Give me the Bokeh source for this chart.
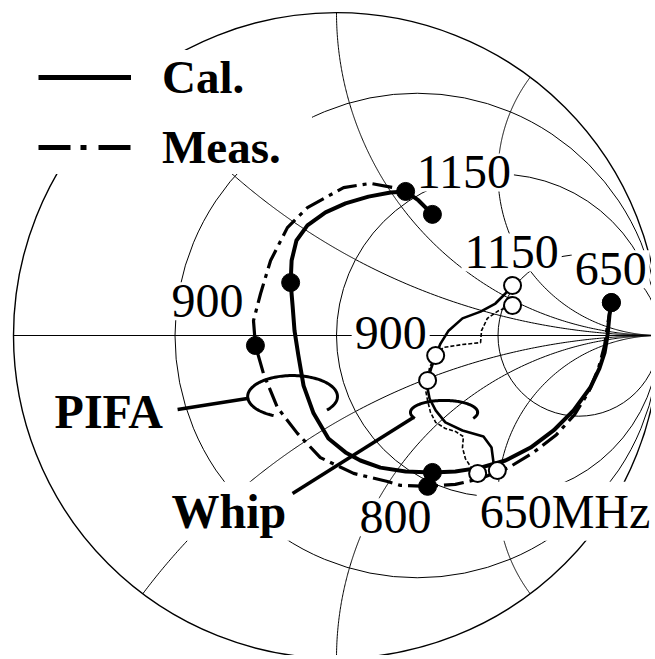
import numpy as np
from bokeh.plotting import figure
from bokeh.models import Label, Legend, LegendItem, Range1d
from bokeh.embed import file_html
from bokeh.resources import INLINE

# ---------------- Smith chart grid values ----------------
resistance_circles = [1/3, 1.0, 3.0]
reactance_arcs = [0.5, 1.0, 2.0, -0.5, -1.0, -2.0]

# ---------------- data: reflection coefficient (Re, Im) ----------------
pifa_cal_re = [0.851, 0.845, 0.839, 0.830, 0.814, 0.786, 0.734, 0.672, 0.601, 0.523, 0.446, 0.368,
               0.297, 0.214, 0.136, 0.074, 0.028, -0.025, -0.071, -0.102, -0.118, -0.130, -0.136,
               -0.142, -0.139, -0.124, -0.090, -0.034, 0.028, 0.099, 0.167, 0.214, 0.254, 0.297]
pifa_cal_im = [0.102, 0.062, 0.000, -0.053, -0.102, -0.161, -0.232, -0.294, -0.347, -0.387, -0.409, -0.421,
               -0.424, -0.421, -0.409, -0.387, -0.362, -0.319, -0.241, -0.155, -0.062, 0.015, 0.093,
               0.164, 0.232, 0.294, 0.341, 0.381, 0.409, 0.430, 0.443, 0.446, 0.418, 0.375]

pifa_meas_re = [0.851, 0.839, 0.830, 0.811, 0.780, 0.737, 0.681, 0.610, 0.533, 0.446, 0.368, 0.282,
                0.198, 0.158, 0.053, -0.050, -0.121, -0.183, -0.226, -0.251, -0.257, -0.235, -0.204,
                -0.152, -0.090, 0.022, 0.105, 0.176, 0.214]
pifa_meas_im = [0.102, 0.031, -0.031, -0.102, -0.176, -0.245, -0.307, -0.362, -0.409, -0.443, -0.461, -0.467,
                -0.464, -0.452, -0.427, -0.378, -0.303, -0.223, -0.118, -0.031, 0.046, 0.130, 0.232,
                0.334, 0.396, 0.458, 0.471, 0.458, 0.446]

whip_cal_re = [0.498, 0.486, 0.480, 0.455, 0.390, 0.337, 0.307, 0.288, 0.282, 0.282, 0.294, 0.307,
               0.322, 0.347, 0.390, 0.446, 0.492, 0.523, 0.545]
whip_cal_im = [-0.418, -0.393, -0.347, -0.313, -0.294, -0.269, -0.232, -0.195, -0.164, -0.139, -0.099, -0.062,
               -0.025, 0.015, 0.053, 0.074, 0.099, 0.130, 0.155]

whip_meas_re = [0.437, 0.415, 0.399, 0.390, 0.393, 0.368, 0.337, 0.307, 0.291, 0.282, 0.276, 0.282,
                0.288, 0.307, 0.331, 0.390, 0.446, 0.449, 0.467, 0.502, 0.545]
whip_meas_im = [-0.427, -0.406, -0.381, -0.347, -0.313, -0.297, -0.288, -0.269, -0.238, -0.201, -0.170, -0.139,
                -0.099, -0.062, -0.037, -0.028, -0.022, 0.015, 0.053, 0.077, 0.093]

# frequency markers (MHz): 650, 800, 900, 1150
pifa_cal_mk_re = [0.851, 0.297, -0.142, 0.297]
pifa_cal_mk_im = [0.102, -0.424, 0.164, 0.375]
pifa_meas_mk_re = [0.851, 0.282, -0.251, 0.214]
pifa_meas_mk_im = [0.102, -0.467, -0.031, 0.446]
# whip markers: 650, 900, 1150
whip_cal_mk_re = [0.498, 0.307, 0.545]
whip_cal_mk_im = [-0.418, -0.062, 0.155]
whip_meas_mk_re = [0.437, 0.282, 0.545]
whip_meas_mk_im = [-0.427, -0.139, 0.093]

# text labels: (text, re, im, bold)
labels = [
    ("900", -0.520, 0.106, False),
    ("1150", 0.239, 0.505, False),
    ("1150", 0.387, 0.257, False),
    ("650", 0.728, 0.205, False),
    ("900", 0.047, 0.007, False),
    ("800", 0.062, -0.563, False),
    ("650MHz", 0.434, -0.544, False),
    ("PIFA", -0.882, -0.235, True),
    ("Whip", -0.520, -0.544, True),
]

# annotation rings (centre re, centre im, semi-axis re, semi-axis im, start deg, end deg)
pifa_ring = (-0.136, -0.189, 0.139, 0.065, -40, 245)
whip_ring = (0.333, -0.238, 0.104, 0.037, -30, 210)
# leader lines (from label to ring)
pifa_leader = ([-0.492, -0.276], [-0.229, -0.195])
whip_leader = ([-0.136, 0.238], [-0.489, -0.254])

# ---------------- figure ----------------
CX, CY, S = 336.0, 335.0, 323.0   # chart centre / radius in page pixels
W, H = 651, 655
p = figure(width=W, height=H, output_backend="svg", toolbar_location=None,
           x_range=Range1d((0 - CX) / S, (W - CX) / S),
           y_range=Range1d((CY - H) / S, (CY - 0) / S),
           x_axis_type=None, y_axis_type=None, min_border=0)
p.grid.visible = False
p.outline_line_color = None
p.background_fill_color = "white"

# grid
rc = np.array(resistance_circles)
g = p.circle(x=rc / (1 + rc), y=np.zeros_like(rc), radius=1 / (1 + rc),
             fill_color=None, line_color="black", line_width=1.0)
g.level = "image"
g = p.circle(x=[0], y=[0], radius=1.0, fill_color=None, line_color="black", line_width=1.4)
g.level = "image"
g = p.segment(x0=[-1], y0=[0], x1=[1], y1=[0], line_color="black", line_width=1.0)
g.level = "image"
rr = np.concatenate([np.linspace(0, 1, 200), np.geomspace(1, 1e5, 400)])
xs, ys = [], []
for xv in reactance_arcs:
    z = rr + 1j * xv
    gam = (z - 1) / (z + 1)
    xs.append(gam.real.tolist())
    ys.append(gam.imag.tolist())
g = p.multi_line(xs, ys, line_color="black", line_width=1.0)
g.level = "image"

# labels (white boxes hide the grid behind them)
for txt, lx, ly, bold in labels:
    lab = Label(x=lx, y=ly, text=txt, text_font="Liberation Serif", text_font_size="48px",
                text_font_style="bold" if bold else "normal", text_color="black",
                text_baseline="alphabetic", text_align="left",
                background_fill_color="white", background_fill_alpha=1.0, padding=3)
    lab.level = "underlay"
    p.add_layout(lab)

# rings and leaders
for (cx, cy, ax, ay, t0, t1) in (pifa_ring, whip_ring):
    t = np.radians(np.linspace(t0, t1, 120))
    p.line(cx + ax * np.cos(t), cy + ay * np.sin(t), line_color="black", line_width=3)
for lx, ly in (pifa_leader, whip_leader):
    p.line(lx, ly, line_color="black", line_width=3.5)

# curves
p.line(pifa_cal_re, pifa_cal_im, line_color="black", line_width=4, line_join="round")
p.line(pifa_meas_re, pifa_meas_im, line_color="black", line_width=3.2, line_dash="20 6 4 6")
p.line(whip_cal_re, whip_cal_im, line_color="black", line_width=2.6, line_join="round")
p.line(whip_meas_re, whip_meas_im, line_color="black", line_width=1.6, line_dash="4 2")

# markers
p.scatter(pifa_cal_mk_re, pifa_cal_mk_im, size=18, color="black")
p.scatter(pifa_meas_mk_re, pifa_meas_mk_im, size=18, color="black")
p.scatter(whip_cal_mk_re, whip_cal_mk_im, size=17, fill_color="white", line_color="black", line_width=2)
p.scatter(whip_meas_mk_re, whip_meas_mk_im, size=17, fill_color="white", line_color="black", line_width=2)

# legend (sample lines drawn only in the legend)
r_cal = p.line([np.nan, np.nan], [np.nan, np.nan], line_color="black", line_width=5)
r_meas = p.line([np.nan, np.nan], [np.nan, np.nan], line_color="black", line_width=5,
                line_dash="32 10 6 12")
legend = Legend(items=[LegendItem(label="Cal.", renderers=[r_cal]),
                       LegendItem(label="Meas.", renderers=[r_meas])],
                location=(38, 481), orientation="vertical",
                label_text_font="Liberation Serif", label_text_font_size="47px",
                label_text_font_style="bold", label_text_color="black", label_standoff=31,
                glyph_width=93, glyph_height=40, label_height=40, label_width=150,
                spacing=16, padding=6, margin=0,
                background_fill_color="white", background_fill_alpha=1.0,
                border_line_color=None)
p.add_layout(legend, "center")

open("out.html", "w").write(file_html(p, INLINE))
